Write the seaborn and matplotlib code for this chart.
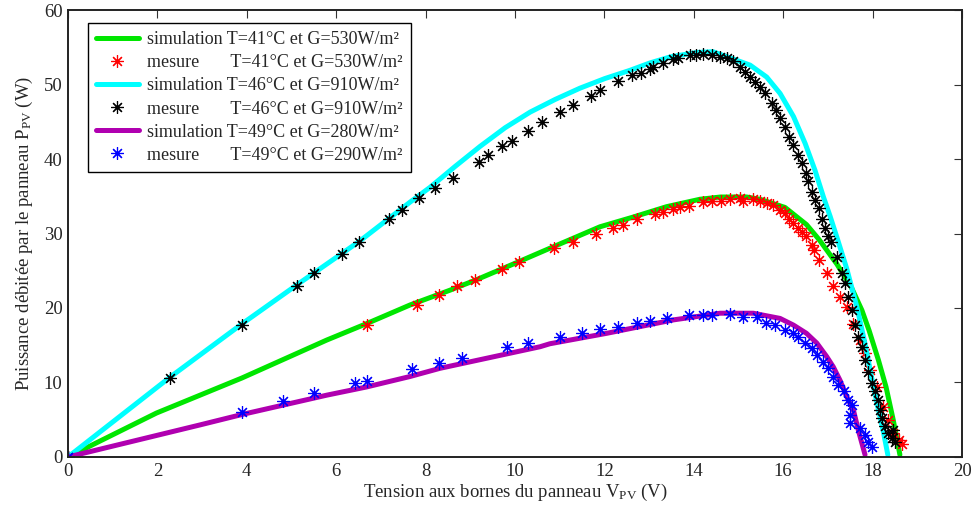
import numpy as np
import pandas as pd
import matplotlib
matplotlib.use("Agg")
import matplotlib.pyplot as plt
import seaborn as sns

# --- Simulated P-V curves (V, P) ---
sim41_v = [0, 1.98, 3.89, 5.79, 6.68, 7.65, 8.55, 9.14, 10.0, 10.85, 11.9, 12.64, 13.39,
           14.14, 14.6, 15.18, 15.48, 16.04, 16.52, 16.8, 17.2, 17.53, 17.76, 17.92, 18.13,
           18.3, 18.46, 18.61]
sim41_p = [0, 5.9, 10.6, 15.7, 17.9, 20.4, 22.4, 23.8, 26.0, 28.2, 30.9, 32.2, 33.6,
           34.6, 34.9, 34.9, 34.6, 33.5, 31.2, 29.2, 25.9, 22.7, 19.7, 17.0, 13.0,
           9.4, 5.0, 0.3]

sim46_v = [0, 2.28, 3.9, 5.12, 6.53, 7.65, 8.1, 8.66, 9.22, 9.78, 10.34, 10.9, 11.45, 12.01,
           12.57, 13.02, 13.47, 14.06, 14.43, 15.26, 15.63, 15.93, 16.23, 16.49, 16.71, 16.9,
           17.05, 17.2, 17.42, 17.65, 17.83, 17.98, 18.09, 18.24, 18.34]
sim46_p = [0, 10.7, 17.9, 23.1, 29.0, 34.2, 36.2, 39.0, 41.7, 44.2, 46.3, 48.0, 49.5, 50.8,
           51.9, 52.9, 53.7, 54.3, 54.4, 52.6, 51.0, 48.8, 45.7, 42.1, 38.5, 34.9,
           32.3, 29.5, 25.3, 20.1, 15.2, 10.6, 7.4, 3.4, 0.3]

sim49_v = [0, 2.95, 3.89, 5.79, 6.68, 7.65, 8.32, 10.56, 10.78, 12.05, 13.54, 14.59, 15.33,
           15.93, 16.23, 16.52, 16.75, 16.97, 17.12, 17.27, 17.42, 17.57, 17.68, 17.83]
sim49_p = [0, 4.3, 5.7, 8.3, 9.4, 10.8, 11.9, 14.8, 15.2, 16.6, 18.4, 19.3, 19.3,
           18.6, 17.7, 16.6, 15.3, 13.5, 12.1, 10.3, 8.1, 6.3, 3.6, 0.3]

# --- Measured points (V, P) ---
mes41_v = [0, 6.68, 7.80, 8.30, 8.71, 9.1, 9.72, 10.10, 10.88, 11.29, 11.81, 12.2, 12.41,
           12.72, 13.13, 13.32, 13.53, 13.69, 13.90, 14.20, 14.40, 14.60, 14.81, 15.03, 15.09,
           15.32, 15.48, 15.63, 15.78, 15.93, 16.04, 16.14, 16.23, 16.32, 16.41, 16.52, 16.64,
           16.69, 16.79, 16.97, 17.12, 17.27, 17.42, 17.57, 17.72, 17.83, 17.94, 18.09, 18.24,
           18.35, 18.46, 18.58, 18.65]
mes41_p = [0, 17.7, 20.4, 21.7, 22.9, 23.8, 25.3, 26.2, 28.0, 28.9, 29.9, 30.7, 31.1,
           31.9, 32.6, 32.9, 33.3, 33.5, 33.7, 34.2, 34.3, 34.4, 34.6, 34.7, 34.4,
           34.6, 34.4, 34.1, 33.8, 33.2, 32.8, 31.9, 31.4, 30.7, 30.2, 29.6, 28.5,
           27.8, 26.4, 24.7, 22.9, 21.5, 20.2, 17.9, 15.7, 13.9, 11.7, 9.4, 6.75,
           5.0, 3.2, 2.3, 1.8]

mes46_v = [0, 2.28, 3.89, 5.12, 5.51, 6.12, 6.52, 7.19, 7.48, 7.85, 8.21, 8.61, 9.2, 9.4,
           9.72, 9.93, 10.3, 10.6, 11.0, 11.29, 11.7, 11.9, 12.31, 12.62, 12.82, 13.02, 13.09,
           13.32, 13.53, 13.65, 13.91, 14.06, 14.21, 14.4, 14.59, 14.74, 14.88, 15.03, 15.15,
           15.26, 15.37, 15.48, 15.59, 15.74, 15.84, 15.93, 16.04, 16.14, 16.23, 16.32, 16.41,
           16.51, 16.56, 16.64, 16.71, 16.79, 16.86, 16.94, 17.01, 17.08, 17.2, 17.31, 17.38,
           17.46, 17.53, 17.61, 17.68, 17.76, 17.83, 17.9, 17.98, 18.05, 18.13, 18.17, 18.2,
           18.28, 18.35, 18.46, 18.43, 18.5]
mes46_p = [0, 10.6, 17.7, 22.95, 24.65, 27.25, 28.9, 31.9, 33.1, 34.8, 36.1, 37.5, 39.6, 40.6,
           41.7, 42.4, 43.8, 45.0, 46.3, 47.2, 48.5, 49.2, 50.5, 51.3, 51.6, 52.1, 52.4,
           52.9, 53.4, 53.5, 53.9, 54.0, 54.05, 54.0, 53.7, 53.5, 53.1, 52.4, 51.7,
           51.0, 50.4, 49.7, 48.8, 47.5, 46.6, 45.5, 44.3, 43.0, 41.9, 40.5, 39.4,
           38.1, 37.0, 35.6, 34.5, 33.4, 32.0, 30.7, 29.6, 28.9, 26.9, 24.7, 23.3,
           21.5, 19.7, 17.7, 16.1, 14.8, 13.0, 11.4, 9.9, 8.8, 7.65, 6.3, 5.2,
           4.1, 3.2, 3.6, 2.5, 2.05]

mes49_v = [0, 3.89, 4.80, 5.50, 6.41, 6.70, 7.70, 8.30, 8.81, 9.81, 10.30, 11.0, 11.5, 11.9,
           12.31, 12.72, 13.02, 13.39, 13.89, 14.21, 14.40, 14.81, 15.11, 15.42, 15.62, 15.82,
           16.04, 16.23, 16.34, 16.49, 16.64, 16.75, 16.90, 17.01, 17.12, 17.23, 17.35, 17.46,
           17.53, 17.49, 17.49, 17.72, 17.83, 17.90, 17.98]
mes49_p = [0, 6.0, 7.56, 8.6, 9.98, 10.2, 11.8, 12.6, 13.3, 14.7, 15.3, 16.1, 16.7, 17.2,
           17.5, 18.0, 18.3, 18.6, 19.0, 19.0, 19.0, 19.2, 18.75, 18.8, 18.0, 17.7,
           17.0, 16.6, 16.1, 15.3, 14.6, 13.7, 12.8, 11.9, 10.8, 9.7, 8.8, 7.65,
           7.0, 5.6, 4.5, 3.85, 2.95, 2.05, 1.4]

labels = [
    "simulation T=41°C et G=530W/m²",
    "mesure       T=41°C et G=530W/m²",
    "simulation T=46°C et G=910W/m²",
    "mesure       T=46°C et G=910W/m²",
    "simulation T=49°C et G=280W/m²",
    "mesure       T=49°C et G=290W/m²",
]

sns.set_style("white")
plt.rcParams["font.family"] = ["Liberation Serif", "DejaVu Serif"]
plt.rcParams["mathtext.default"] = "regular"

fig = plt.figure(figsize=(9.75, 5.11), dpi=100)
ax = fig.add_axes([0.0697, 0.1057, 0.9170, 0.8747])

star = (8, 2, 0)
series = [
    ("line", sim41_v, sim41_p, "#00e600"),
    ("mark", mes41_v, mes41_p, "#ff0000"),
    ("line", sim46_v, sim46_p, "#00ffff"),
    ("mark", mes46_v, mes46_p, "#000000"),
    ("line", sim49_v, sim49_p, "#b000b0"),
    ("mark", mes49_v, mes49_p, "#0000ff"),
]

for (kind, v, p, col), lab in zip(series, labels):
    df = pd.DataFrame({"V": v, "P": p})
    if kind == "line":
        sns.lineplot(data=df, x="V", y="P", ax=ax, color=col, linewidth=3.6,
                     estimator=None, sort=False, label=lab)
    else:
        sns.lineplot(data=df, x="V", y="P", ax=ax, color=col, linestyle="",
                     marker=star, markersize=9, markeredgewidth=0.85,
                     markeredgecolor=col, markerfacecolor=col,
                     estimator=None, sort=False, label=lab)

ax.set_xlim(0, 20)
ax.set_ylim(0, 60)
ax.set_xticks(np.arange(0, 21, 2))
ax.set_yticks(np.arange(0, 61, 10))
ax.tick_params(direction="in", length=6, width=0.8, labelsize=13.5, color="#333333",
               top=True, right=True, pad=4)
for s in ax.spines.values():
    s.set_linewidth(1.4)
    s.set_color("#222222")

ax.set_xlabel("Tension aux bornes du panneau V$_{PV}$ (V)", fontsize=13.5, labelpad=2)
ax.set_ylabel("Puissance débitée par le panneau P$_{PV}$ (W)", fontsize=13.5, labelpad=6)

leg = ax.legend(loc="upper left", bbox_to_anchor=(0.022, 0.971), borderaxespad=0,
                fontsize=13, handlelength=2.4, handletextpad=0.45, labelspacing=0.34,
                numpoints=1, fancybox=False, framealpha=1, edgecolor="black",
                borderpad=0.45)
leg.get_frame().set_linewidth(1.0)

fig.savefig("out.png", dpi=100)
